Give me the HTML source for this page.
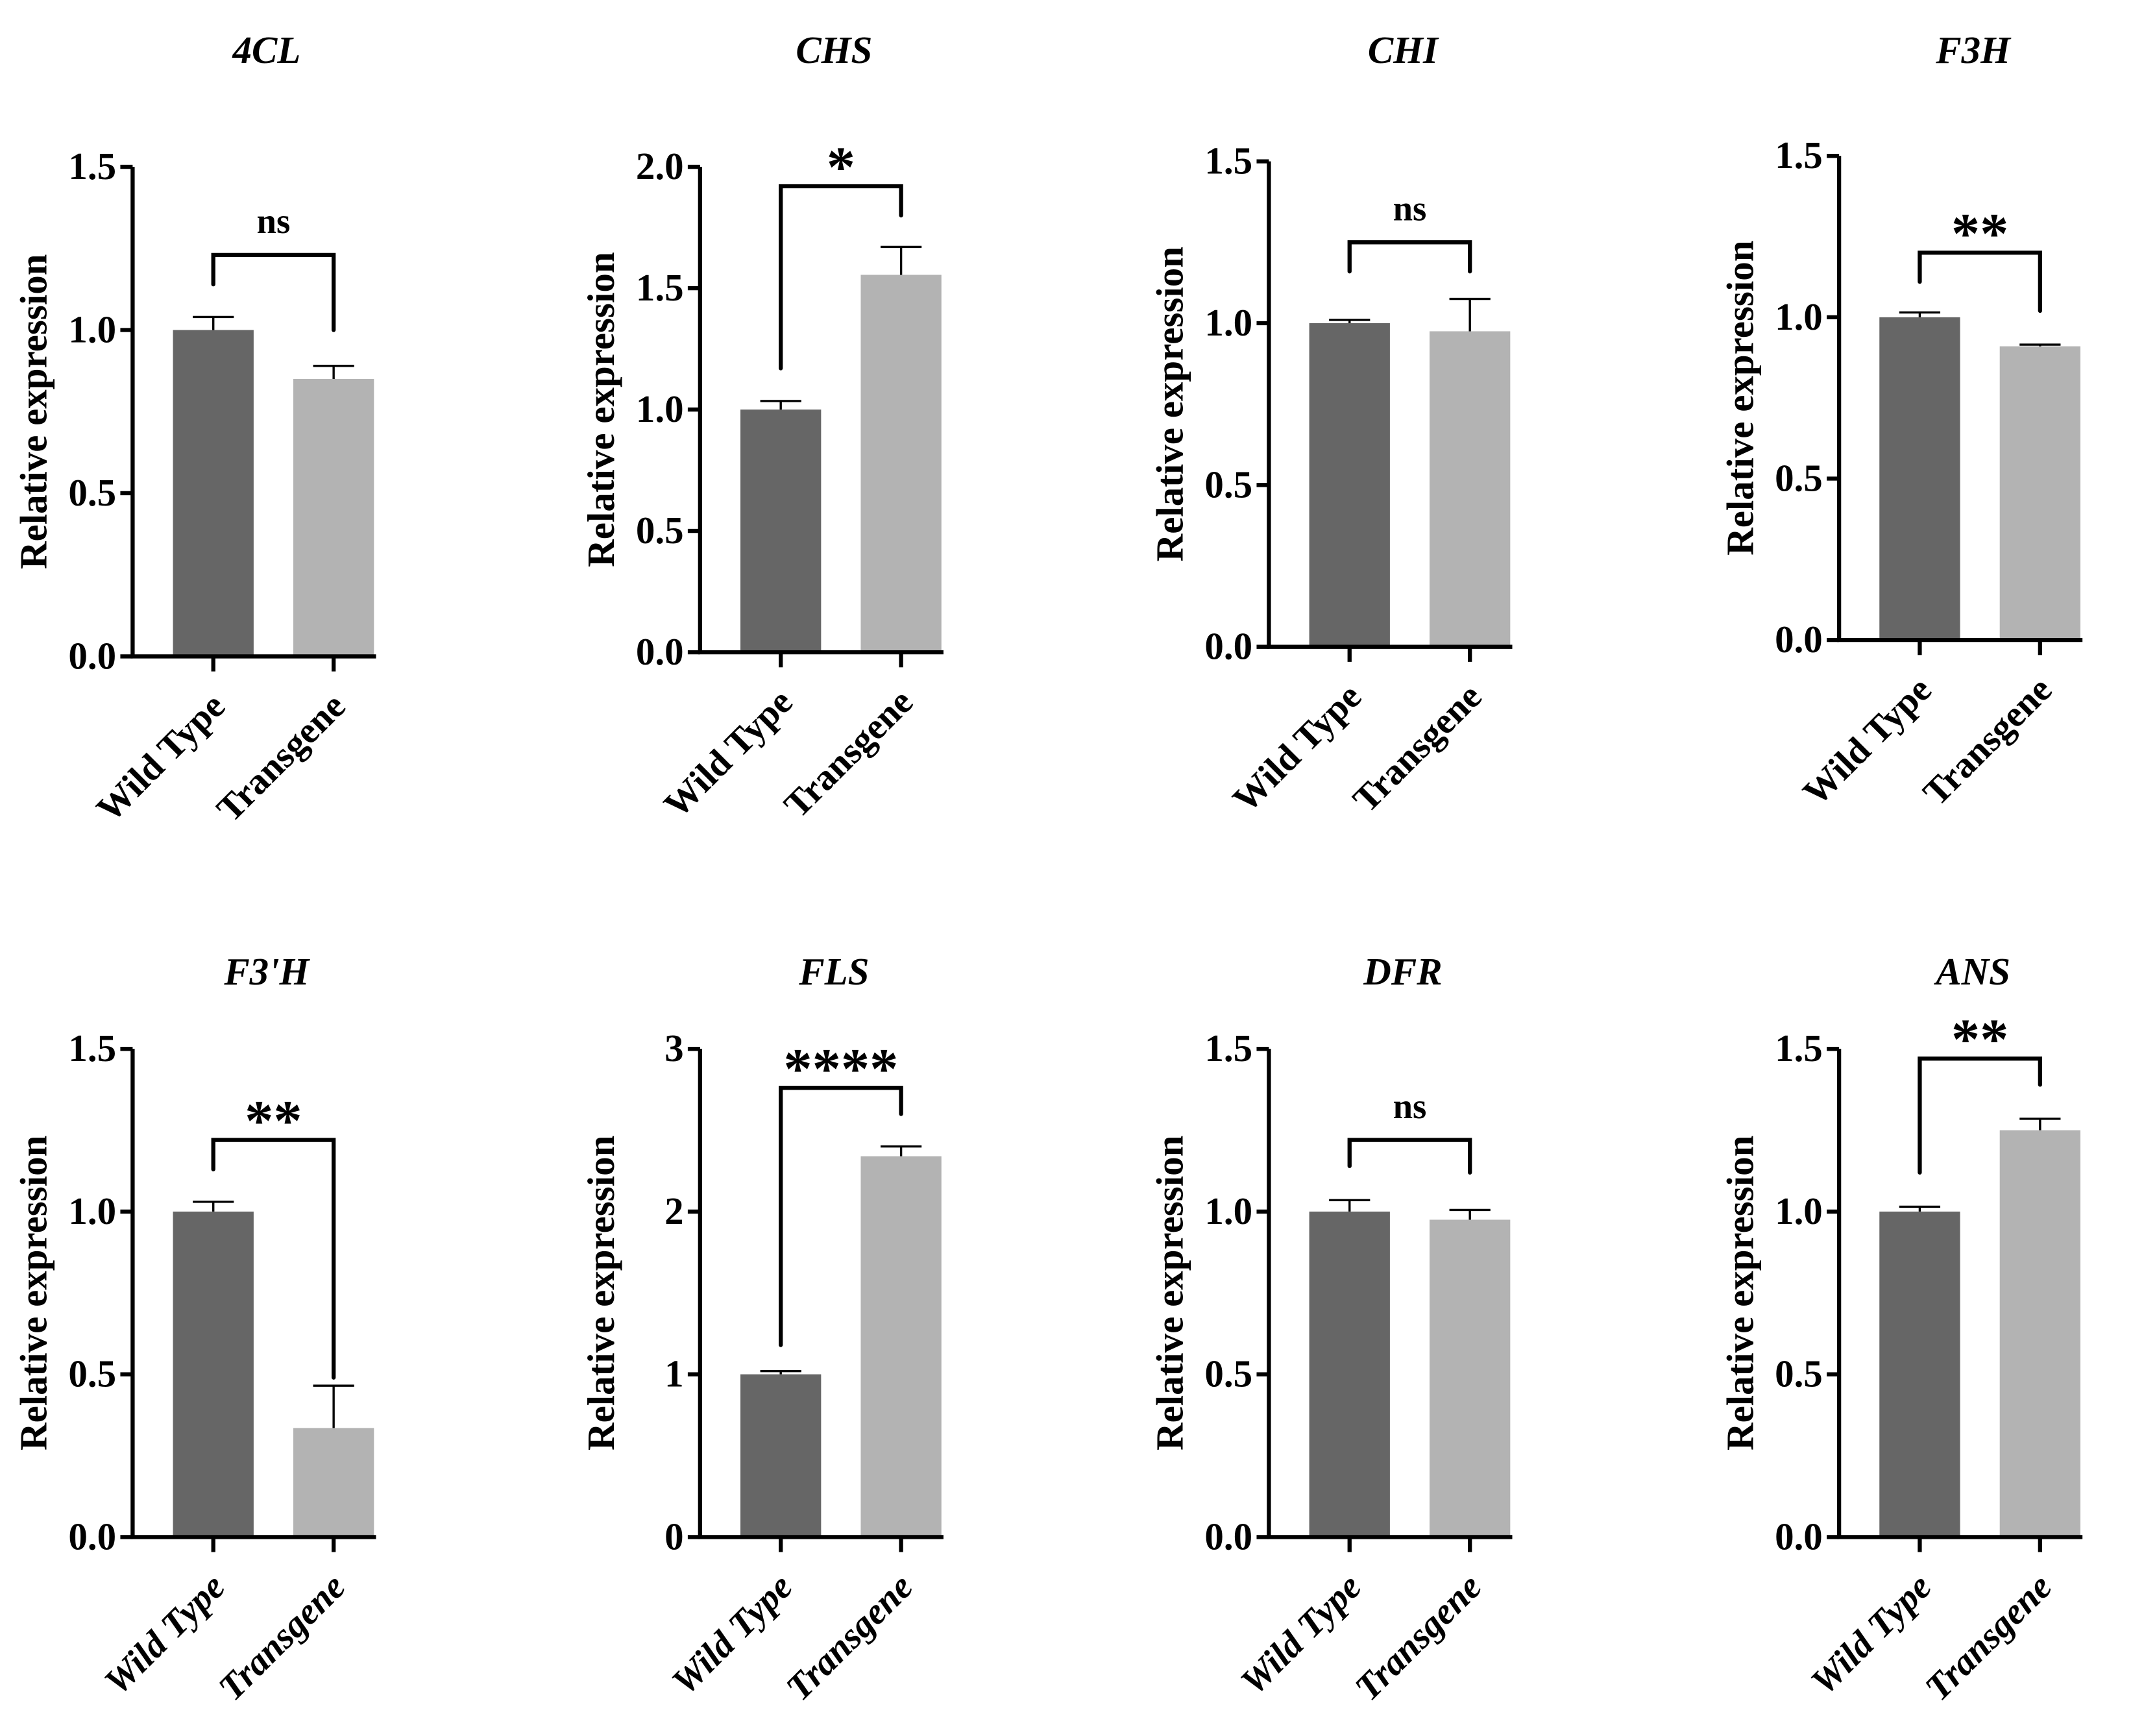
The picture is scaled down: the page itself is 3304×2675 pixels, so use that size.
<!DOCTYPE html>
<html><head><meta charset="utf-8"><style>
html,body{margin:0;padding:0;background:#fff;}
svg{display:block;}
text{font-family:"Liberation Serif",serif;font-weight:bold;fill:#000;}
</style></head><body>
<svg id="fig" xmlns="http://www.w3.org/2000/svg" width="3304" height="2675" viewBox="0 0 1568 1269.5" preserveAspectRatio="none"></svg>
<script>
const genes = ["4CL","CHS","CHI","F3H","F3'H","FLS","DFR","ANS"];
const categories = ["Wild Type","Transgene"];
const wtValues = [1.0,1.0,1.0,1.0,1.0,1.0,1.0,1.0];
const wtErrors = [0.04,0.035,0.01,0.015,0.03,0.02,0.035,0.015];
const tgValues = [0.85,1.555,0.975,0.91,0.335,2.34,0.975,1.25];
const tgErrors = [0.04,0.115,0.10,0.005,0.13,0.06,0.03,0.035];
const yMaxes = [1.5,2.0,1.5,1.5,1.5,3,1.5,1.5];
const yTickLabels = [
  ["0.0","0.5","1.0","1.5"],["0.0","0.5","1.0","1.5","2.0"],["0.0","0.5","1.0","1.5"],["0.0","0.5","1.0","1.5"],
  ["0.0","0.5","1.0","1.5"],["0","1","2","3"],["0.0","0.5","1.0","1.5"],["0.0","0.5","1.0","1.5"]];
const sigLabels = ["ns","*","ns","**","**","****","ns","**"];
const bracketY = [1.23,1.92,1.25,1.2,1.22,2.76,1.22,1.47];
const bracketLeftEnd = [1.14,1.17,1.16,1.11,1.13,1.18,1.14,1.12];
const bracketRightEnd = [1.0,1.8,1.16,1.02,0.49,2.6,1.12,1.39];

const NS="http://www.w3.org/2000/svg";
const svg=document.getElementById('fig');
const axX=[97,512,928,1345];
const zeroY=[480,477,473,468,1124,1124,1124,1124];
const topY=[122,122,118,114,767,767,767,767];
function mk(tag,attrs,parent){const e=document.createElementNS(NS,tag);for(const k in attrs)e.setAttribute(k,attrs[k]);(parent||svg).appendChild(e);return e;}

genes.forEach((g,i)=>{
  const ax=axX[i%4], y0=zeroY[i], y1=topY[i];
  const y=v=>y0-(v/yMaxes[i])*(y0-y1);
  const xc=k=>ax+59+k*88;
  const grp=mk('g',{});
  
  
  const t=mk('text',{x:ax+98,y:(i<4?46:720),'text-anchor':'middle','font-size':28,'font-style':'italic'},grp);
  t.textContent=g;
  
  
  const yt=mk('text',{transform:`translate(${ax-63},${(y0+y1)/2}) rotate(-90)`,'text-anchor':'middle','font-size':28},grp);
  yt.textContent='Relative expression';
  
  
  [[wtValues,wtErrors,'#666666'],[tgValues,tgErrors,'#b3b3b3']].forEach(([vals,errs,col],k)=>{
    const v=vals[i],e=errs[i];
    const b=mk('rect',{x:xc(k)-29.5,y:y(v),width:59,height:y0-y(v),fill:col},grp);
    
    
    const eb=mk('path',{d:`M${xc(k)} ${y(v)}V${y(v+e)}M${xc(k)-15} ${y(v+e)}H${xc(k)+15}`,stroke:'#000','stroke-width':1.6,fill:'none'},grp);
    
    
  });
  const axp=mk('path',{d:`M${ax} ${y1}V${y0}H${ax+178}`,stroke:'#000','stroke-width':3,fill:'none'},grp);
  
  
  yTickLabels[i].forEach((lab,j)=>{
    const v=yMaxes[i]*j/(yTickLabels[i].length-1);
    mk('line',{x1:ax-9,x2:ax,y1:y(v),y2:y(v),stroke:'#000','stroke-width':3},grp);
    const tl=mk('text',{x:ax-12,y:y(v)+9,'text-anchor':'end','font-size':28},grp);
    tl.textContent=lab;
    
    
  });
  categories.forEach((c,k)=>{
    mk('line',{x1:xc(k),x2:xc(k),y1:y0,y2:y0+11,stroke:'#000','stroke-width':3},grp);
    const xl=mk('text',{transform:`translate(${xc(k)+10},${y0+38}) rotate(-45)`,'text-anchor':'end','font-size':27,'font-style':(i<4?'normal':'italic')},grp);
    xl.textContent=c;
    
    
  });
  const br=mk('path',{d:`M${xc(0)} ${y(bracketLeftEnd[i])}V${y(bracketY[i])}H${xc(1)}V${y(bracketRightEnd[i])}`,stroke:'#000','stroke-width':3,fill:'none','stroke-linecap':'round'},grp);
  
  
  const ns=sigLabels[i]==='ns';
  const sl=mk('text',{x:(xc(0)+xc(1))/2,y:y(bracketY[i])-(ns?16:0),'text-anchor':'middle','font-size':ns?26:42},grp);
  sl.textContent=sigLabels[i];
  
  
});
</script>
</body></html>
